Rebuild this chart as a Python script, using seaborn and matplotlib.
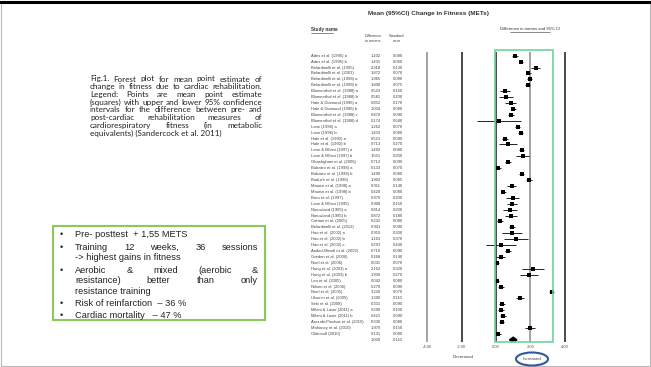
import numpy as np
import pandas as pd
import matplotlib
matplotlib.use("Agg")
import matplotlib.pyplot as plt
import seaborn as sns
from matplotlib.patches import Rectangle, Ellipse, Polygon
from matplotlib.lines import Line2D

W, H = 651, 367

# ---- forest plot data ----
studies = [
    "Ades et al. (1995) a", "Ades et al. (1995) b", "Belardinelli et al. (1995)",
    "Belardinelli et al. (2001)", "Belardinelli et al. (1998) a", "Belardinelli et al. (1998) b",
    "Blumenthal et al. (1988) a", "Blumenthal et al. (1988) b", "Hale & Diamond (1996) a",
    "Hale & Diamond (1996) b", "Blumenthal et al. (1988) c", "Blumenthal et al. (1988) d",
    "Lane (1996) a", "Lane (1996) b", "Hale et al. (1992) a", "Hale et al. (1992) b",
    "Lane & Milani (1997) a", "Lane & Milani (1997) b", "Ghashghaei et al. (2006)",
    "Bubaiev et al. (1998) a", "Bubaiev et al. (1998) b", "Boduch et al. (1996)",
    "Maurizi et al. (1998) a", "Maurizi et al. (1998) b", "Breu et al. (1997)",
    "Lane & Milani (1995)", "Nieuwland (1985) a", "Nieuwland (1985) b",
    "Cattani et al. (2005)", "Belardinelli et al. (2012)", "Hao et al. (2002) a",
    "Hao et al. (2002) b", "Hao et al. (2002) c", "Anderl-Mendl et al. (2002)",
    "Gordon et al. (2006)", "Noel et al. (2006)", "Hung et al. (2003) a",
    "Hung et al. (2003) b", "Leo et al. (2005)", "Nilsen et al. (2006)",
    "Noel et al. (2005)", "Ulsenin et al. (2005)", "Seki et al. (2008)",
    "Milani & Lavie (2011) a", "Milani & Lavie (2011) b", "Arazabi-Pinchas et al. (2010)",
    "Mahoney et al. (2010)", "Oldervoll (2010)",
]
diff = [
    1.102, 1.431, 2.318, 1.872, 1.965, 1.840, 0.523, 0.581, 0.852, 1.004,
    0.870, 0.174, 1.262, 1.433, 0.521, 0.713, 1.492, 1.551, 0.712, 0.133,
    1.490, 1.902, 0.911, 0.420, 0.970, 0.908, 0.814, 0.872, 0.232, 0.941,
    0.910, 1.163, 0.291, 0.710, 0.268, 0.041, 2.162, 1.930, 0.042, 0.270,
    3.230, 1.390, 0.331, 0.290, 0.421, 0.330, 1.970, 0.131,
]
se = [
    0.080, 0.060, 0.130, 0.070, 0.080, 0.075, 0.160, 0.200, 0.170, 0.080,
    0.090, 0.640, 0.070, 0.080, 0.090, 0.270, 0.080, 0.200, 0.090, 0.070,
    0.080, 0.085, 0.140, 0.080, 0.200, 0.150, 0.200, 0.180, 0.080, 0.090,
    0.300, 0.370, 0.440, 0.090, 0.140, 0.070, 0.320, 0.270, 0.080, 0.090,
    0.070, 0.110, 0.090, 0.100, 0.090, 0.080, 0.150, 0.080,
]
summary_diff = 1.000
summary_se = 0.110
xticks = [-4, -2, 0, 2, 4]

# ---- slide text ----
caption_lines = [
    ("Fig.1. Forest plot for mean point estimate of", True),
    ("change in fitness due to cardiac rehabilitation.", True),
    ("Legend: Points are mean point estimate", True),
    ("(squares) with upper and lower 95% confidence", True),
    ("intervals for the difference between pre- and", True),
    ("post-cardiac rehabilitation measures of", True),
    ("cardiorespiratory fitness (in metabolic", True),
    ("equivalents) (Sandercock et al. 2011)", False),
]
bullet_items = [
    [("Pre- posttest  + 1,55 METS", False)],
    [("Training 12 weeks, 36 sessions", True), ("-> highest gains in fitness", False)],
    [("Aerobic & mixed (aerobic &", True), ("resistance) better than only", True),
     ("resistance training", False)],
    [("Risk of reinfarction  \u2013 36 %", False)],
    [("Cardiac mortality   \u2013 47 %", False)],
]

sns.set_theme(style="white")
plt.rcParams["font.family"] = ["Liberation Sans", "DejaVu Sans"]

fig = plt.figure(figsize=(W / 100, H / 100), dpi=100)
fig.patch.set_facecolor("white")
renderer = fig.canvas.get_renderer()


def fx(px):
    return px / W


def fy(py):
    return 1 - py / H


def text_width(s, **kw):
    t = fig.text(0, 0, s, **kw)
    w = t.get_window_extent(renderer).width
    t.remove()
    return w


def draw_line(line, just, x0, x1, y, **kw):
    """Write one line of text on a baseline at pixel row y, spread to x0..x1 if justified."""
    words = line.split()
    if not just or len(words) < 2:
        fig.text(fx(x0), fy(y), line, ha="left", va="baseline", **kw)
        return
    widths = [text_width(w, **kw) for w in words]
    min_gap = 0.6 * text_width("a a", **kw) - 0.6 * text_width("aa", **kw)
    gap = max((x1 - x0 - sum(widths)) / (len(words) - 1), min_gap)
    x = x0
    for w, wd in zip(words, widths):
        fig.text(fx(x), fy(y), w, ha="left", va="baseline", **kw)
        x += wd + gap


# slide frame and top rule
fig.add_artist(Rectangle((0.001, 0.002), 0.997, 0.996, transform=fig.transFigure,
                         fill=False, ec="#b8b8b8", lw=0.8))
fig.add_artist(Line2D([0, 1], [fy(1.5), fy(1.5)], transform=fig.transFigure,
                      color="black", lw=2.2))

# caption
cap_kw = dict(fontsize=5.9, family=["Lato", "DejaVu Sans"], color="#222222")
for j, (line, just) in enumerate(caption_lines):
    draw_line(line, just, 90, 262, 81.5 + j * 7.7, **cap_kw)

# bullet box
fig.add_artist(Rectangle((fx(53), fy(320)), 212 / W, 94 / H, transform=fig.transFigure,
                         fill=False, ec="#8cc95a", lw=1.5))
bul_kw = dict(fontsize=6.7, color="#222222")
y = 237.5
for item in bullet_items:
    fig.text(fx(60), fy(y), "\u2022", ha="left", va="baseline", **bul_kw)
    for line, just in item:
        draw_line(line, just, 75, 258, y, **bul_kw)
        y += 10.6
    y += 1.6

# forest plot axes
PX0, PPU = 496.0, 17.2
xlo, xhi = -4.4, 4.4
left_px, right_px = PX0 + xlo * PPU, PX0 + xhi * PPU
ROW0, ROWH = 55.7, 5.92
top_px, bot_px = 52, 342
ax = fig.add_axes([fx(left_px), fy(bot_px), (right_px - left_px) / W, (bot_px - top_px) / H])
ax.set_xlim(xlo, xhi)
ax.set_ylim((bot_px - ROW0) / ROWH, (top_px - ROW0) / ROWH)


def dx(px):
    return (px - PX0) / PPU


df = pd.DataFrame({"study": studies, "diff": diff, "se": se})
df["row"] = np.arange(len(df))
df["lo"] = df["diff"] - 1.96 * df["se"]
df["hi"] = df["diff"] + 1.96 * df["se"]

line_cols = ["#9c9c9c", "#3c3c3c", "#3c3c3c", "#9c9c9c", "#3c3c3c"]
for t, c in zip(xticks, line_cols):
    ax.axvline(t, color=c, lw=1.3, zorder=1)

ax.hlines(df["row"], df["lo"], df["hi"], color="black", lw=0.6, zorder=3)
sns.scatterplot(data=df, x="diff", y="row", marker="s", s=10, color="black",
                edgecolor="black", linewidth=0, ax=ax, zorder=4, legend=False)

srow = len(df)
s_lo, s_hi = summary_diff - 1.96 * summary_se, summary_diff + 1.96 * summary_se
ax.add_patch(Polygon([(s_lo, srow), (summary_diff, srow - 0.45), (s_hi, srow),
                      (summary_diff, srow + 0.45)], closed=True, color="black", zorder=4))

# highlighted region
ax.add_patch(Rectangle((dx(495), (50 - ROW0) / ROWH), dx(553) - dx(495), (342 - 50) / ROWH,
                       fill=False, ec="#72d39b", lw=1.2, clip_on=False, zorder=5))

ax.set_xticks(xticks)
ax.set_xticklabels([f"{t:.2f}" for t in xticks], fontsize=3, color="#555555")
ax.tick_params(axis="x", length=0, pad=2)
ax.set_yticks([])
ax.set_xlabel("")
ax.set_ylabel("")
sns.despine(ax=ax, left=True, bottom=True)
ax.patch.set_alpha(0)

# study table
tab_kw = dict(fontsize=3, color="#444444", va="center", clip_on=False)
for r, name, d, s in zip(df["row"], df["study"], df["diff"], df["se"]):
    ax.text(dx(311), r, name, ha="left", **tab_kw)
    ax.text(dx(381), r, f"{d:.3f}", ha="right", **tab_kw)
    ax.text(dx(403), r, f"{s:.3f}", ha="right", **tab_kw)
ax.text(dx(381), srow, f"{summary_diff:.3f}", ha="right", **tab_kw)
ax.text(dx(403), srow, f"{summary_se:.3f}", ha="right", **tab_kw)

# headings
fig.text(fx(428), fy(14), "Mean (95%CI) Change in Fitness (METs)", ha="center", va="center",
         fontsize=4.6, color="#333333", weight="bold")
fig.text(fx(311), fy(30), "Study name", ha="left", va="center", fontsize=3.3,
         color="#333333", weight="bold")
fig.add_artist(Line2D([fx(311), fx(333)], [fy(32.5), fy(32.5)], transform=fig.transFigure,
                      color="#333333", lw=0.4))
fig.text(fx(373), fy(38.5), "Difference\nin means", ha="center", va="center",
         fontsize=2.8, color="#444444", linespacing=1.2)
fig.text(fx(397), fy(38.5), "Standard\nerror", ha="center", va="center",
         fontsize=2.8, color="#444444", linespacing=1.2)
fig.text(fx(530), fy(29), "Difference in means and 95% CI", ha="center", va="center",
         fontsize=3.1, color="#333333")
fig.add_artist(Line2D([fx(510), fx(550)], [fy(31.5), fy(31.5)], transform=fig.transFigure,
                      color="#333333", lw=0.4))

fig.text(fx(463), fy(357), "Decreased", ha="center", va="center", fontsize=3.2, color="#444444")
fig.text(fx(532), fy(359), "Increased", ha="center", va="center", fontsize=3.2, color="#444444")
fig.add_artist(Ellipse((fx(532), fy(359)), 32 / W, 13 / H, transform=fig.transFigure,
                       fill=False, ec="#2e5a9c", lw=1.5))

fig.savefig("out.png", dpi=100, facecolor="white")
